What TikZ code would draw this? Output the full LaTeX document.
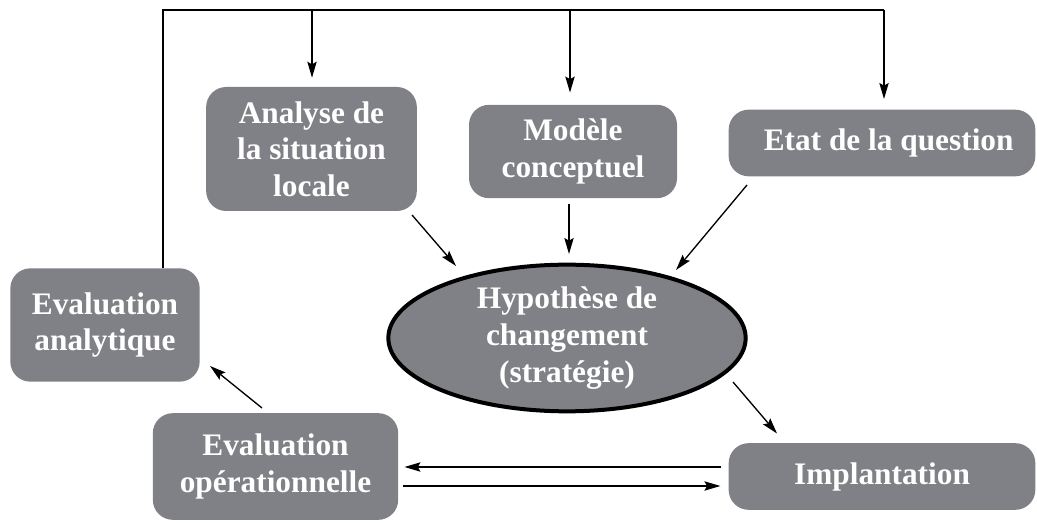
\documentclass[tikz,border=0pt]{standalone}
\usepackage{fontspec}
\setmainfont{Liberation Serif}
\usetikzlibrary{arrows.meta,shapes.geometric,calc}
\definecolor{boxgray}{RGB}{128,129,134}
\begin{document}
\begin{tikzpicture}[x=0.75pt,y=-0.75pt,
  box/.style={draw=none,fill=boxgray,rounded corners=15pt,text=white,
    font=\fontsize{23.5}{27.5}\selectfont\bfseries,align=center,inner sep=0pt},
  line/.style={line width=1pt,black},
  arr/.style={line,-{Stealth[length=12pt,width=7pt,inset=2pt]}}]
\useasboundingbox (0,0) rectangle (1037,523);
\node[box,minimum width=158pt,minimum height=93pt] (ana) at (311.5,149) {Analyse de\\la situation\\locale};
\node[box,minimum width=156pt,minimum height=70pt] (mod) at (573,151.5) {Mod\`ele\\conceptuel};
\node[box,minimum width=230pt,minimum height=50pt] (etat) at (882,143) {\hspace*{10pt}Etat de la question};
\node[ellipse,draw=black,line width=3pt,fill=boxgray,text=white,
  font=\fontsize{23.5}{27.5}\selectfont\bfseries,align=center,inner sep=0pt,
  minimum width=268pt,minimum height=110pt] (hyp) at (567,338) {Hypoth\`ese de\\changement\\(strat\'egie)};
\node[box,minimum width=142pt,minimum height=85pt] (evan) at (105,325) {Evaluation\\analytique};
\node[box,minimum width=184pt,minimum height=80pt] (evop) at (275.5,466.5) {Evaluation\\op\'erationnelle};
\node[box,minimum width=230pt,minimum height=50pt] (impl) at (882,476.5) {Implantation};
\coordinate (tl) at (163,10);
\coordinate (tr) at (884,10);
\draw[line] (evan.north -| tl) -- (tl) -- (tr);
\draw[arr] (tr) -- ($(tr)+(0,89)$);
\draw[arr] ($(tl)+(149,0)$) -- ($(ana.north)+(0.5,-9)$);
\draw[arr] ($(tl)+(407,0)$) -- ($(mod.north)+(-3,-12)$);
\draw[arr] ($(ana.center)+(100.5,66)$) -- ($(hyp.center)+(-111,-72)$);
\draw[arr] ($(mod.south)+(-4,6)$) -- ($(hyp.center)+(2,-84)$);
\draw[arr] ($(etat.center)+(-135,42)$) -- ($(hyp.center)+(109,-68)$);
\draw[arr] ($(hyp.center)+(166,44)$) -- ($(impl.center)+(-105,-43)$);
\draw[arr] ($(evop.center)+(-13.5,-58.5)$) -- ($(evan.center)+(105,41)$);
\draw[arr] ($(impl.west)+(-7,-9.5)$) -- ($(evop.east)+(6,0.5)$);
\draw[arr] ($(evop.east)+(5,19.5)$) -- ($(impl.west)+(-8,9.5)$);
\end{tikzpicture}
\end{document}
